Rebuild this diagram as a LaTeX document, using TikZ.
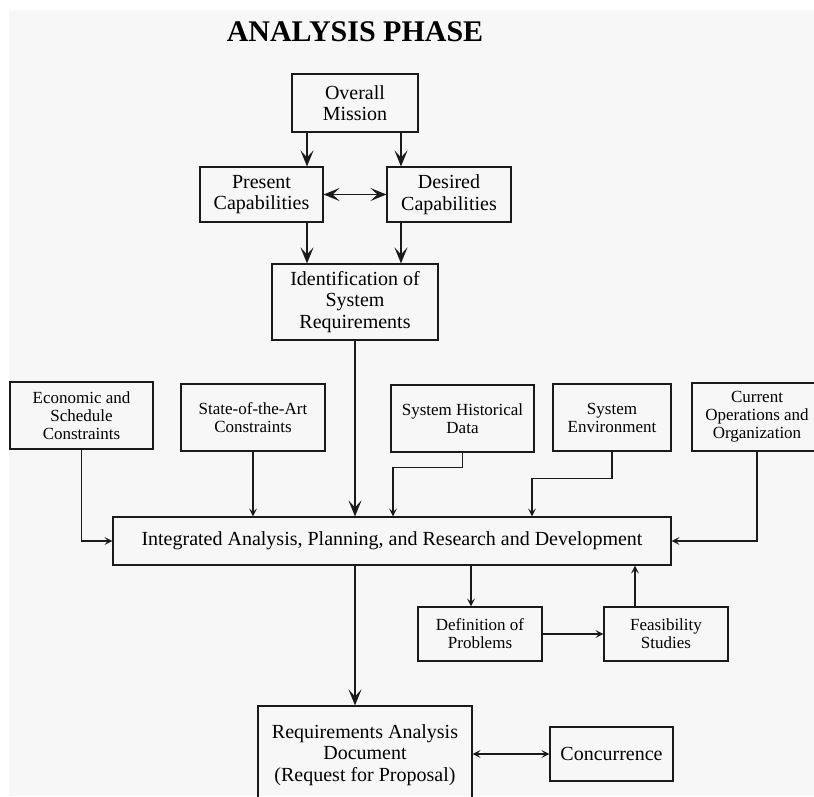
\documentclass[tikz,border=0pt]{standalone}
\usepackage{fontspec}
\setmainfont{Liberation Serif}
\usetikzlibrary{arrows.meta,calc}
\definecolor{panel}{HTML}{F7F7F7}
\definecolor{ink}{HTML}{1A1A1A}
\tikzset{
  box/.style={draw=ink, line width=1.2pt, inner sep=0pt, align=center,
    text=black, font=\fontsize{20}{21.5}\selectfont},
  smallbox/.style={box, font=\fontsize{17}{18}\selectfont},
  wire/.style={draw=ink, line width=1.2pt},
  bighead/.tip={Stealth[length=16pt,width=13pt,inset=7pt]},
  smallhead/.tip={Stealth[length=8pt,width=8pt,inset=3.5pt]},
  bigarrow/.style={wire, -bighead},
  bigboth/.style={wire, bighead-bighead},
  smallarrow/.style={wire, -smallhead},
  smallboth/.style={wire, smallhead-smallhead},
}
\begin{document}
\begin{tikzpicture}[x=1pt,y=-1pt]
\useasboundingbox (0,0) rectangle (814,796);
\clip (0,0) rectangle (814,796);
\fill[white] (0,0) rectangle (814,796);
\fill[panel] (9,10) rectangle (814,796);

% heading
\node[font=\fontsize{30}{32}\selectfont\bfseries] (title) at (355,32) {ANALYSIS PHASE};

% upper chain
\node[box, minimum width=126pt, minimum height=58pt] (mission) at (355,103) {Overall\\Mission};
\node[box, minimum width=123pt, minimum height=55pt] (present) at (261.5,194.5) {Present\\Capabilities};
\node[box, minimum width=124pt, minimum height=55pt] (desired) at (449,194.5) {Desired\\Capabilities};
\node[box, minimum width=166pt, minimum height=76pt] (ident) at (355,302) {Identification of\\System\\Requirements};

% input row
\node[smallbox, minimum width=143pt, minimum height=67pt] (econ) at (81.5,415.5) {Economic and\\Schedule\\Constraints};
\node[smallbox, minimum width=144pt, minimum height=67pt] (state) at (253,417.5) {State-of-the-Art\\Constraints};
\node[smallbox, minimum width=143pt, minimum height=67pt] (hist) at (462.5,418.5) {System Historical\\Data};
\node[smallbox, minimum width=118pt, minimum height=67pt] (env) at (612,417.5) {System\\Environment};
\node[smallbox, minimum width=130pt, minimum height=68pt] (curr) at (757,417) {Current\\Operations and\\Organization};

% central box
\node[box, minimum width=558pt, minimum height=48pt] (integ) at (392,541) {Integrated Analysis, Planning, and Research and Development};

% feedback loop
\node[smallbox, minimum width=124pt, minimum height=54pt] (defn) at (480,634) {Definition of\\Problems};
\node[smallbox, minimum width=124pt, minimum height=54pt] (feas) at (666,634) {Feasibility\\Studies};

% output
\node[box, minimum width=214pt, minimum height=98pt] (req) at (365,755) {Requirements Analysis\\Document\\(Request for Proposal)};
\node[box, minimum width=123pt, minimum height=54pt] (conc) at (611.5,754) {Concurrence};

% connector columns
\coordinate (cL) at (307,0);
\coordinate (cR) at (401,0);
\coordinate (cM) at (355,0);
\coordinate (cH) at (393,0);
\coordinate (cE) at (532,0);
\coordinate (cD) at (471,0);
\coordinate (cF) at (635,0);

% connectors
\draw[bigarrow] (mission.south -| cL) -- (present.north -| cL);
\draw[bigarrow] (mission.south -| cR) -- (desired.north -| cR);
\draw[bigboth] (present.east) -- (desired.west);
\draw[bigarrow] (present.south -| cL) -- (ident.north -| cL);
\draw[bigarrow] (desired.south -| cR) -- (ident.north -| cR);
\draw[bigarrow] (ident.south -| cM) -- (integ.north -| cM);

\draw[smallarrow] (econ.south) |- (integ.west);
\draw[smallarrow] (state.south) -- (integ.north -| state.south);
\draw[smallarrow] (hist.south) -- ++(0,15) -| (integ.north -| cH);
\draw[smallarrow] (env.south) -- ++(0,27) -| (integ.north -| cE);
\draw[smallarrow] (curr.south) |- (integ.east);

\draw[smallarrow] (integ.south -| cD) -- (defn.north -| cD);
\draw[smallarrow] (defn.east) -- (feas.west);
\draw[smallarrow] (feas.north -| cF) -- (integ.south -| cF);

\draw[bigarrow] (integ.south -| cM) -- (req.north -| cM);
\draw[smallboth] (conc.west -| req.east) -- (conc.west);
\end{tikzpicture}
\end{document}
